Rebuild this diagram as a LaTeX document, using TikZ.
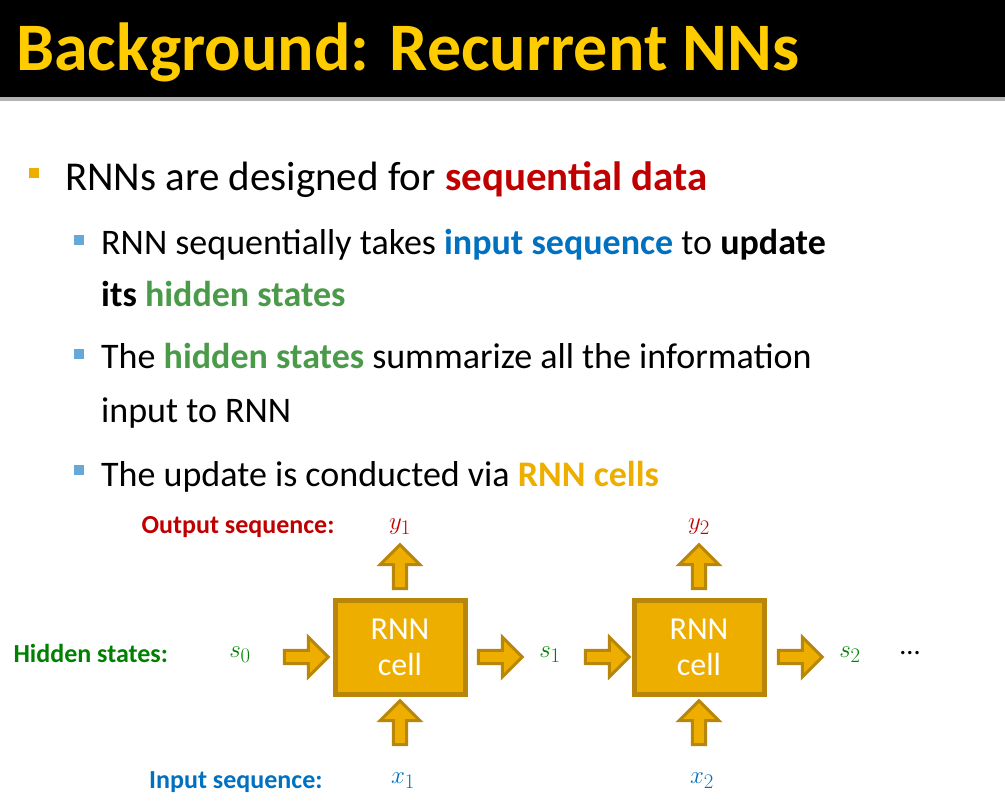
\documentclass[tikz,border=0pt]{standalone}
\usepackage{fontspec}
\setmainfont{Carlito}
\usetikzlibrary{shapes.arrows}
\definecolor{gold}{HTML}{EDAE00}
\definecolor{golddark}{HTML}{B8860B}
\definecolor{seqred}{HTML}{C00000}
\definecolor{seqblue}{HTML}{0070C0}
\definecolor{hidgreen}{HTML}{4A9A4A}
\definecolor{labgreen}{HTML}{008000}
\definecolor{titleyellow}{HTML}{FFCC00}
\tikzset{blockarrow/.style={single arrow,draw=golddark,fill=gold,line width=3pt,
	minimum height=44pt,minimum width=40pt,single arrow head extend=9pt,inner sep=3pt},
	cell/.style={draw=golddark,fill=gold,line width=5pt,minimum width=130pt,minimum height=94pt,
	text=white,align=center,font=\fontsize{32}{36}\selectfont},
	bullet/.style={fill=#1,minimum size=10pt,inner sep=0pt},
	txt/.style={anchor=base west,inner sep=0pt},
	var/.style={font=\fontsize{30}{30}\selectfont}}
\begin{document}
\begin{tikzpicture}[x=1pt,y=-1pt]
	\useasboundingbox (0,0) rectangle (1005,803);
	\fill[black] (0,0) rectangle (1005,97);
	\fill[gray!60] (0,97) rectangle (1005,101);
	\node[txt,text=titleyellow,font=\fontsize{68}{70}\selectfont\bfseries] (title) at (16,70) {Background: Recurrent NNs};

	\node[bullet=gold] (b0) at (34,173) {};
	\node[txt,font=\fontsize{41}{44}\selectfont] (l0) at (65,190) {RNNs are designed for \textcolor{seqred}{\bfseries sequential data}};
	\node[bullet=seqblue!60] (b1) at (79,240) {};
	\node[txt,font=\fontsize{36}{40}\selectfont] (l1) at (101,254) {RNN sequentially takes \textcolor{seqblue}{\bfseries input sequence} to \textbf{update}};
	\node[txt,font=\fontsize{36}{40}\selectfont] (l1b) at (101,306) {\textbf{its} \textcolor{hidgreen}{\bfseries hidden states}};
	\node[bullet=seqblue!60] (b2) at (79,354) {};
	\node[txt,font=\fontsize{36}{40}\selectfont] (l2) at (101,368) {The \textcolor{hidgreen}{\bfseries hidden states} summarize all the information};
	\node[txt,font=\fontsize{36}{40}\selectfont] (l2b) at (101,422) {input to RNN};
	\node[bullet=seqblue!60] (b3) at (79,470) {};
	\node[txt,font=\fontsize{36}{40}\selectfont] (l3) at (101,486) {The update is conducted via \textcolor{gold}{\bfseries RNN cells}};

	% diagram
	\node[anchor=east,text=seqred,font=\fontsize{26}{28}\selectfont\bfseries] (outlab) at (338,527) {Output sequence:};
	\node[anchor=west,text=labgreen,font=\fontsize{26}{28}\selectfont\bfseries] (hidlab) at (10,653) {Hidden states:};
	\node[anchor=east,text=seqblue,font=\fontsize{26}{28}\selectfont\bfseries] (inlab) at (326,782) {Input sequence:};

	\node[cell] (c1) at (400,647) {RNN\\cell};
	\node[cell] (c2) at (699,647) {RNN\\cell};

	\node[var,text=labgreen] (s0) at (240,655) {$s_0$};
	\node[var,text=labgreen] (s1) at (550,655) {$s_1$};
	\node[var,text=labgreen] (s2) at (850,655) {$s_2$};
	\node[font=\fontsize{28}{28}\selectfont] (dots) at (910,653) {...};
	\node[var,text=seqred] (y1) at (400,527) {$y_1$};
	\node[var,text=seqred] (y2) at (699,527) {$y_2$};
	\node[var,text=seqblue] (x1) at (403,781) {$x_1$};
	\node[var,text=seqblue] (x2) at (702,781) {$x_2$};

	\node[blockarrow] (h0) at (303,657) {};
	\node[blockarrow] (h1) at (497,657) {};
	\node[blockarrow] (h2) at (604,657) {};
	\node[blockarrow] (h3) at (797,657) {};
	\node[blockarrow,rotate=90] (u1) at (400,570) {};
	\node[blockarrow,rotate=90] (u2) at (699,570) {};
	\node[blockarrow,rotate=90] (i1) at (400,726) {};
	\node[blockarrow,rotate=90] (i2) at (699,726) {};
\end{tikzpicture}
\end{document}
